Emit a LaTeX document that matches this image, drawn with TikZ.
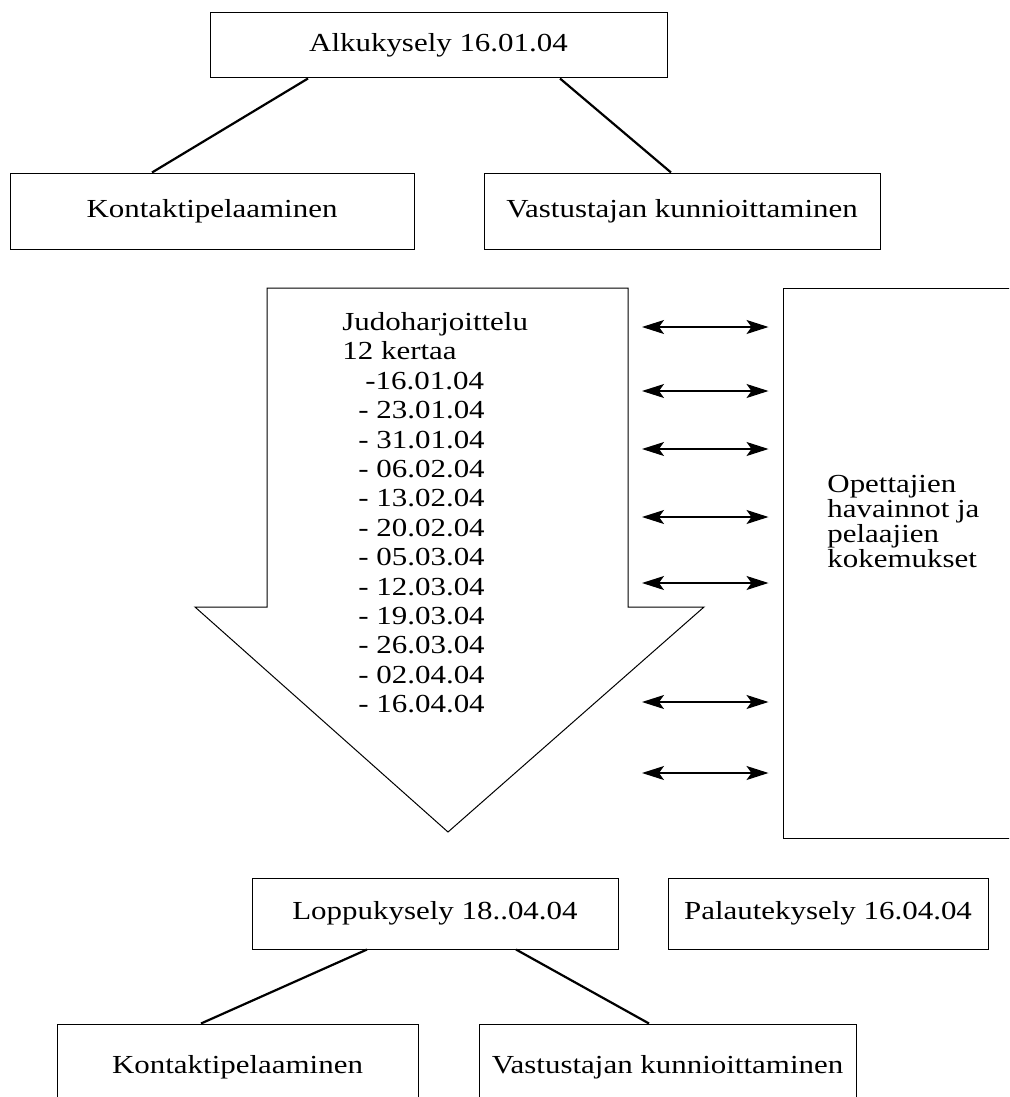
\documentclass[tikz,border=0pt]{standalone}
\usepackage{fontspec}
\setmainfont{Liberation Serif}[FakeStretch=1.19]
\usetikzlibrary{arrows.meta}
\tikzset{
  laatikko/.style={draw,line width=0.5pt,inner sep=0pt,font=\fontsize{13}{15}\selectfont},
  haara/.style={line width=1.1pt},
  kaksoisnuoli/.style={{Stealth[length=11pt,width=7pt,inset=2.5pt]}-{Stealth[length=11pt,width=7pt,inset=2.5pt]},line width=0.6pt},
  teksti/.style={anchor=north west,inner sep=0pt,align=left}
}

\begin{document}
\begin{tikzpicture}[x=0.5pt,y=-0.5pt]
  \useasboundingbox (0,0) rectangle (1009,1097);
  \clip (0,0) rectangle (1009,1097);
  % alkukysely
  \node[laatikko,minimum width=228.5pt,minimum height=32.5pt] (alku) at (438.5,45.5) {Alkukysely 16.01.04};
  \node[laatikko,minimum width=202pt,minimum height=38pt] (kontakti1) at (212,211) {Kontaktipelaaminen};
  \node[laatikko,minimum width=198pt,minimum height=38pt] (vastustaja1) at (682,211) {Vastustajan kunnioittaminen};
  \draw[haara] (alku.south -| 308,0) -- (kontakti1.north -| 152,0);
  \draw[haara] (alku.south -| 560,0) -- (vastustaja1.north -| 671,0);
  % harjoittelu
  \draw[line width=0.5pt] (267,288) -- (628,288) -- (628,607) -- (704,607) -- (448,832) -- (195,607) -- (267,607) -- cycle;
  \coordinate (varsi) at (628,288);
  \node[teksti,font=\fontsize{13}{14.7}\selectfont] (harjoitukset) at (342,312) {Judoharjoittelu\\12 kertaa\\
    \hspace*{11.5pt}-16.01.04\\\hspace*{8pt}- 23.01.04\\\hspace*{8pt}- 31.01.04\\\hspace*{8pt}- 06.02.04\\
    \hspace*{8pt}- 13.02.04\\\hspace*{8pt}- 20.02.04\\\hspace*{8pt}- 05.03.04\\\hspace*{8pt}- 12.03.04\\
    \hspace*{8pt}- 19.03.04\\\hspace*{8pt}- 26.03.04\\\hspace*{8pt}- 02.04.04\\\hspace*{8pt}- 16.04.04};
  \node[laatikko,minimum width=128.5pt,minimum height=275pt] (havainnot) at (911.5,563) {};
  \node[teksti,font=\fontsize{13}{12.5}\selectfont] (havaintoteksti) at (827,475) {Opettajien\\havainnot ja\\pelaajien\\kokemukset};
  \foreach \y in {327,391,449,517,583,702,773}
    \draw[kaksoisnuoli,shorten <=7pt,shorten >=7pt] (varsi |- 0,\y) -- (havainnot.west |- 0,\y);
  % loppukysely
  \node[laatikko,minimum width=183pt,minimum height=35.5pt] (loppu) at (435,913.5) {Loppukysely 18..04.04};
  \node[laatikko,minimum width=160pt,minimum height=35.5pt] (palaute) at (828,913.5) {Palautekysely 16.04.04};
  \node[laatikko,minimum width=180.5pt,minimum height=43pt] (kontakti2) at (237.5,1067) {Kontaktipelaaminen};
  \node[laatikko,minimum width=188.5pt,minimum height=43pt] (vastustaja2) at (667.5,1067) {Vastustajan kunnioittaminen};
  \draw[haara] (loppu.south -| 367,0) -- (kontakti2.north -| 201,0);
  \draw[haara] (loppu.south -| 516,0) -- (vastustaja2.north -| 649,0);
\end{tikzpicture}
\end{document}
